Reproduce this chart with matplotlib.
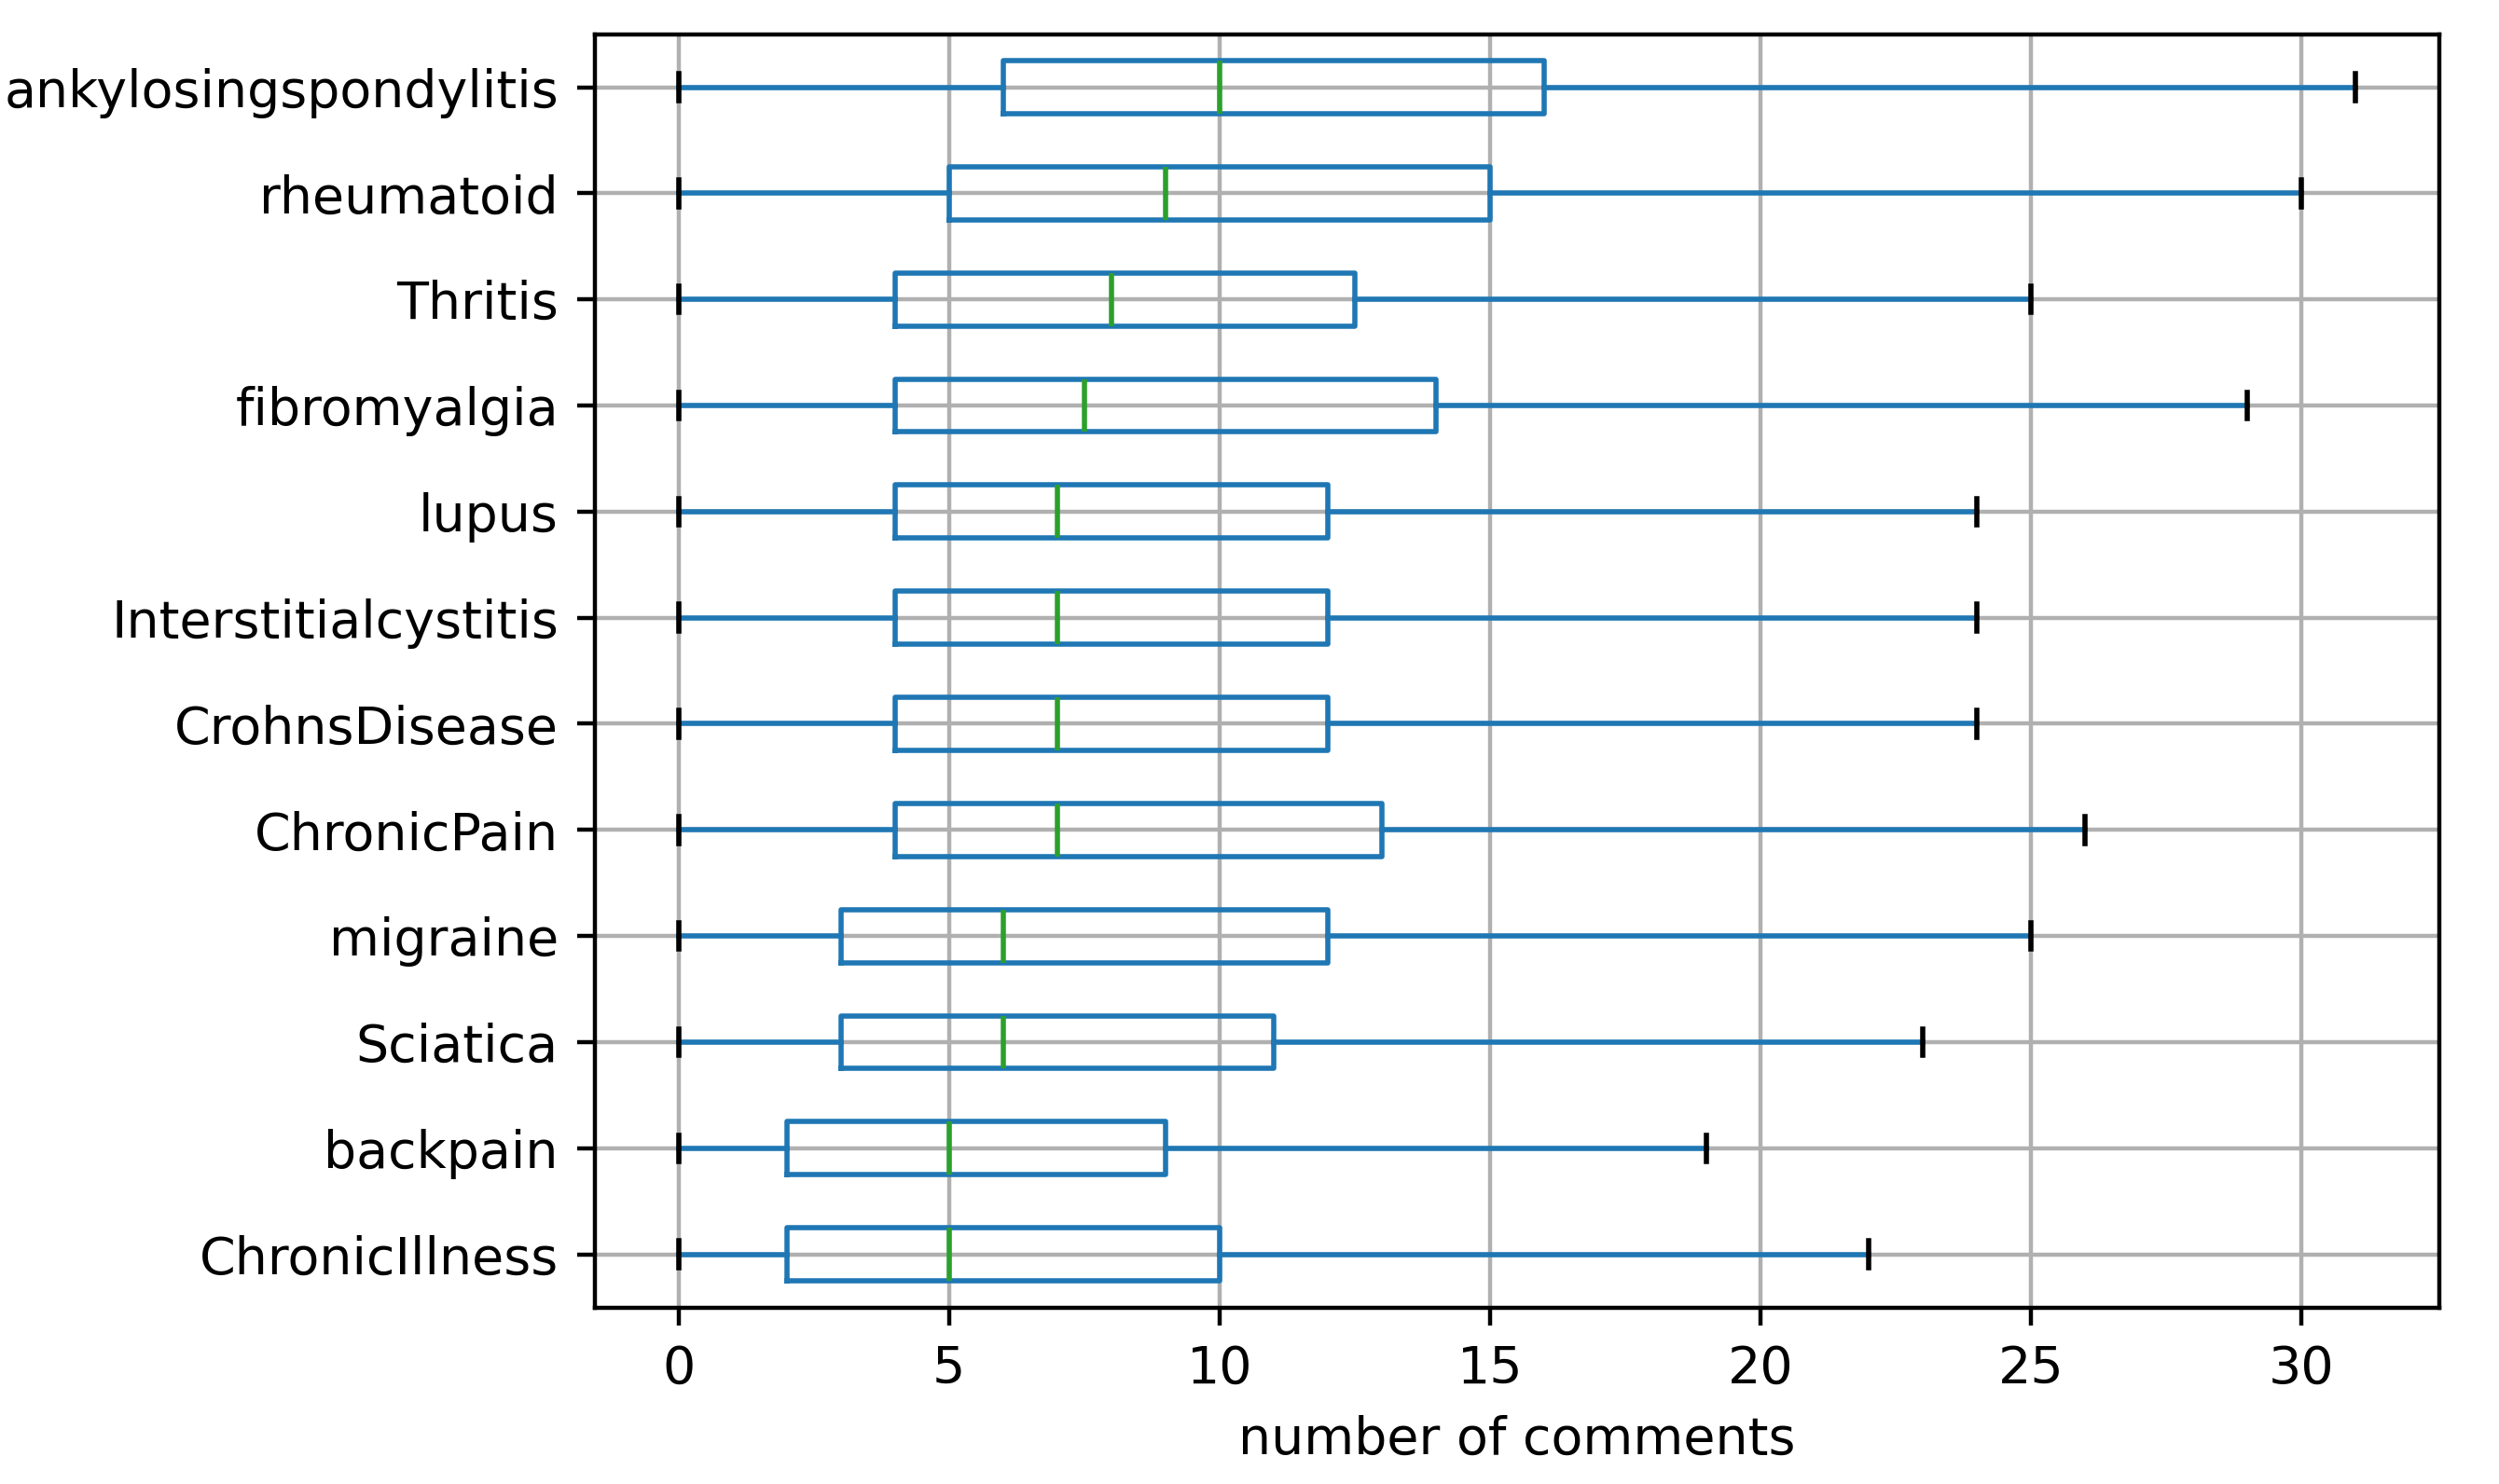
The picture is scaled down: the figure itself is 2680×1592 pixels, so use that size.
import matplotlib
matplotlib.use("Agg")
import matplotlib.pyplot as plt

categories = ["ChronicIllness", "backpain", "Sciatica", "migraine", "ChronicPain",
              "CrohnsDisease", "Interstitialcystitis", "lupus", "fibromyalgia",
              "Thritis", "rheumatoid", "ankylosingspondylitis"]
whislo = [0, 0, 0, 0, 0, 0, 0, 0, 0, 0, 0, 0]
q1 = [2, 2, 3, 3, 4, 4, 4, 4, 4, 4, 5, 6]
med = [5, 5, 6, 6, 7, 7, 7, 7, 7.5, 8, 9, 10]
q3 = [10, 9, 11, 12, 13, 12, 12, 12, 14, 12.5, 15, 16]
whishi = [22, 19, 23, 25, 26, 24, 24, 24, 29, 25, 30, 31]

stats = [dict(label=c, whislo=a, q1=b, med=m, q3=d, whishi=e, fliers=[])
         for c, a, b, m, d, e in zip(categories, whislo, q1, med, q3, whishi)]

fig = plt.figure(figsize=(6.7, 3.98), dpi=400)
ax = fig.add_axes([0.238, 0.119, 0.738, 0.858])
ax.bxp(stats, vert=False, widths=0.5,
       boxprops=dict(color="C0"), whiskerprops=dict(color="C0"),
       medianprops=dict(color="C2"), capprops=dict(color="black"))
ax.grid(True)
ax.set_axisbelow(True)
ax.set_xticks([0, 5, 10, 15, 20, 25, 30])
ax.set_xlabel("number of comments")
fig.savefig("out.png", dpi=400)
